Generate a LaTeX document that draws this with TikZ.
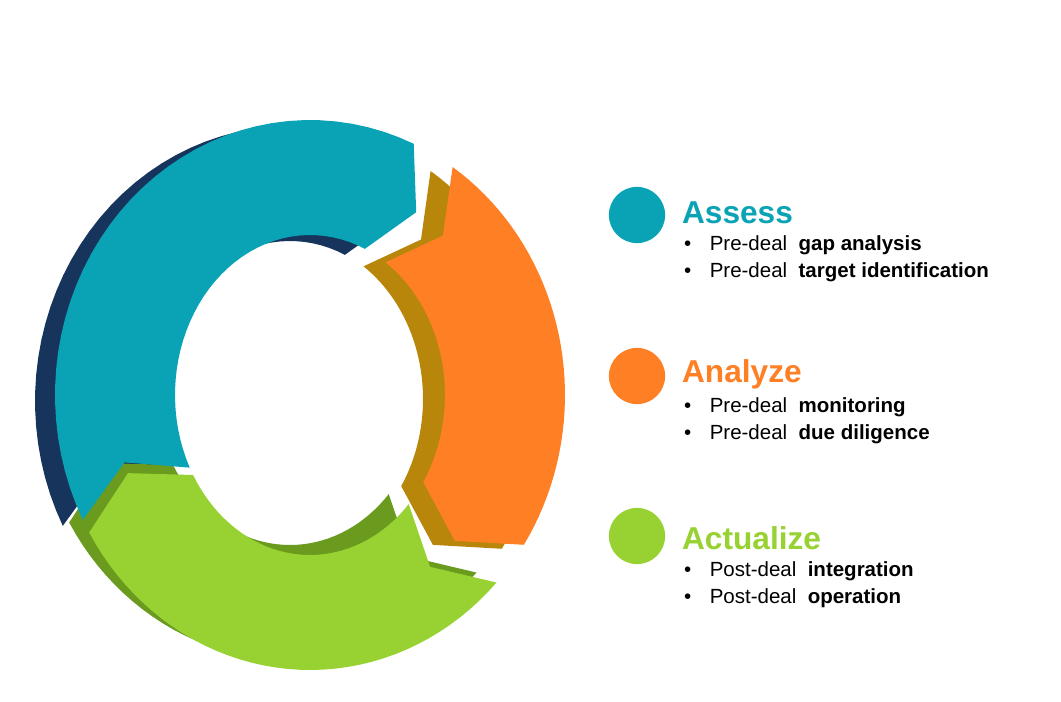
\documentclass[tikz,border=0pt]{standalone}
\usepackage{fontspec}
\setmainfont{Liberation Sans}
\definecolor{teal1}{HTML}{0AA3B5}
\definecolor{navy1}{HTML}{17355C}
\definecolor{orange1}{HTML}{FF7F24}
\definecolor{gold1}{HTML}{B8860B}
\definecolor{green1}{HTML}{98D232}
\definecolor{green2}{HTML}{6A9A1E}
\newcommand{\ringseg}[4]{%
  \fill[#3,shift={#4}] plot[domain=#1:#2,samples=40] ({310+255*cos(\x)},{395-275*sin(\x)})
   -- ({310+195*cos(#2-9)},{395-218*sin(#2-9)})
   -- plot[domain=#2:#1,samples=40] ({310+135*cos(\x)},{395-160*sin(\x)})
   -- ({310+195*cos(#1-9)},{395-218*sin(#1-9)}) -- cycle;}
\tikzset{title/.style={font=\fontsize{27}{30}\selectfont\bfseries,anchor=west},
 item/.style={font=\fontsize{17.5}{20}\selectfont,anchor=west},
 dot/.style={circle,minimum size=48pt,inner sep=0pt}}
\begin{document}
\begin{tikzpicture}[x=0.03cm,y=-0.03cm]
\useasboundingbox (0,0) rectangle (1061,702);
\ringseg{207}{66}{navy1}{(-20,6)}
\ringseg{56}{-33}{gold1}{(-22,4)}
\ringseg{-43}{-150}{green2}{(-20,-10)}
\ringseg{207}{66}{teal1}{(0,0)}
\ringseg{56}{-33}{orange1}{(0,0)}
\ringseg{-43}{-150}{green1}{(0,0)}
\node[dot,fill=teal1] (c1) at (637,215) {};
\node[title,text=teal1] (t1) at (678,213) {Assess};
\node[item] (a1) at (680,245) {•\hspace{0.9em}Pre-deal \ \textbf{gap analysis}};
\node[item] (a2) at (680,272) {•\hspace{0.9em}Pre-deal \ \textbf{target identification}};
\node[dot,fill=orange1] (c2) at (637,376) {};
\node[title,text=orange1] (t2) at (678,374) {Analyze};
\node[item] (b1) at (680,407) {•\hspace{0.9em}Pre-deal \ \textbf{monitoring}};
\node[item] (b2) at (680,434) {•\hspace{0.9em}Pre-deal \ \textbf{due diligence}};
\node[dot,fill=green1] (c3) at (637,536) {};
\node[title,text=green1] (t3) at (678,538) {Actualize};
\node[item] (d1) at (680,571) {•\hspace{0.9em}Post-deal \ \textbf{integration}};
\node[item] (d2) at (680,598) {•\hspace{0.9em}Post-deal \ \textbf{operation}};
\end{tikzpicture}
\end{document}
